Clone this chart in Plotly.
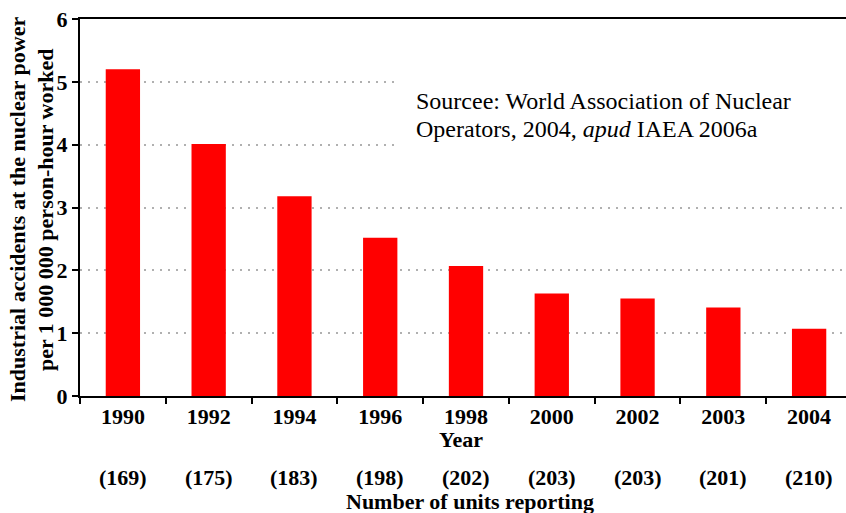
import plotly.graph_objects as go

years = ["1990", "1992", "1994", "1996", "1998", "2000", "2002", "2003", "2004"]
accidents = [5.2, 4.01, 3.18, 2.52, 2.07, 1.63, 1.55, 1.41, 1.07]
units = ["(169)", "(175)", "(183)", "(198)", "(202)", "(203)", "(203)", "(201)", "(210)"]
y_ticks = [0, 1, 2, 3, 4, 5, 6]

SERIF = "Liberation Serif, Times New Roman, serif"

# plot area spans x 80..846, y 19..396 in the window
PX0, PX1, PY0, PY1 = 80, 846, 19, 396


def px(xabs):
    return (xabs - PX0) / (PX1 - PX0)


def py(yabs):
    return (PY1 - yabs) / (PY1 - PY0)


fig = go.Figure()
fig.add_trace(go.Bar(x=years, y=accidents, marker=dict(color="#FF0000", line=dict(width=0))))

black = "black"
annotations = []
for i, u in enumerate(units):
    annotations.append(dict(x=i, xref="x", y=py(477), yref="paper", text="<b>%s</b>" % u,
                            showarrow=False, font=dict(family=SERIF, size=22, color=black),
                            xanchor="center", yanchor="middle"))
annotations.append(dict(x=px(461), xref="paper", y=py(439), yref="paper", text="<b>Year</b>",
                        showarrow=False, font=dict(family=SERIF, size=22, color=black),
                        xanchor="center", yanchor="middle"))
annotations.append(dict(x=px(470), xref="paper", y=py(501), yref="paper",
                        text="<b>Number of units reporting</b>",
                        showarrow=False, font=dict(family=SERIF, size=22, color=black),
                        xanchor="center", yanchor="middle"))
annotations.append(dict(x=px(18), xref="paper", y=py(210), yref="paper",
                        text="<b>Industrial accidents at the nuclear power</b>", textangle=-90,
                        showarrow=False, font=dict(family=SERIF, size=22, color=black),
                        xanchor="center", yanchor="middle"))
annotations.append(dict(x=px(46), xref="paper", y=py(210), yref="paper",
                        text="<b>per 1 000 000 person-hour worked</b>", textangle=-90,
                        showarrow=False, font=dict(family=SERIF, size=22, color=black),
                        xanchor="center", yanchor="middle"))
annotations.append(dict(x=px(414), xref="paper", y=py(101), yref="paper",
                        text="Sourcee: World Association of Nuclear",
                        showarrow=False, font=dict(family=SERIF, size=24, color=black),
                        xanchor="left", yanchor="middle", align="left"))
annotations.append(dict(x=px(414), xref="paper", y=py(129), yref="paper",
                        text="Operators, 2004, <i>apud</i> IAEA 2006a",
                        showarrow=False, font=dict(family=SERIF, size=24, color=black),
                        xanchor="left", yanchor="middle", align="left"))

fig.update_layout(
    width=846, height=513,
    margin=dict(l=80, r=0, t=19, b=117, autoexpand=False),
    paper_bgcolor="white", plot_bgcolor="white",
    bargap=0.6,
    showlegend=False,
    annotations=annotations,
    shapes=[dict(type="rect", xref="paper", yref="y", x0=px(395), x1=1.0, y0=3.4, y1=5.6,
                 fillcolor="white", line=dict(width=0), layer="above")],
    xaxis=dict(
        type="category", range=[-0.5, 8.43],
        showline=True, linecolor=black, linewidth=2, mirror=True,
        ticks="outside", tickson="boundaries", ticklen=6, tickwidth=2, tickcolor=black,
        tickfont=dict(family=SERIF, size=22, color=black),
        showgrid=False,
        tickprefix="<b>", ticksuffix="</b>",
    ),
    yaxis=dict(
        range=[0, 6], tickvals=y_ticks, ticktext=["<b>%d</b>" % v for v in y_ticks],
        showline=True, linecolor=black, linewidth=2,
        ticks="outside", ticklen=6, tickwidth=2, tickcolor=black,
        tickfont=dict(family=SERIF, size=22, color=black),
        showgrid=True, gridcolor="#B0B0B0", gridwidth=2, griddash="2px,6px",
        zeroline=False,
    ),
)

fig.write_html("out.html", config={"displayModeBar": False},
               post_script="document.body.style.margin='0px';")
